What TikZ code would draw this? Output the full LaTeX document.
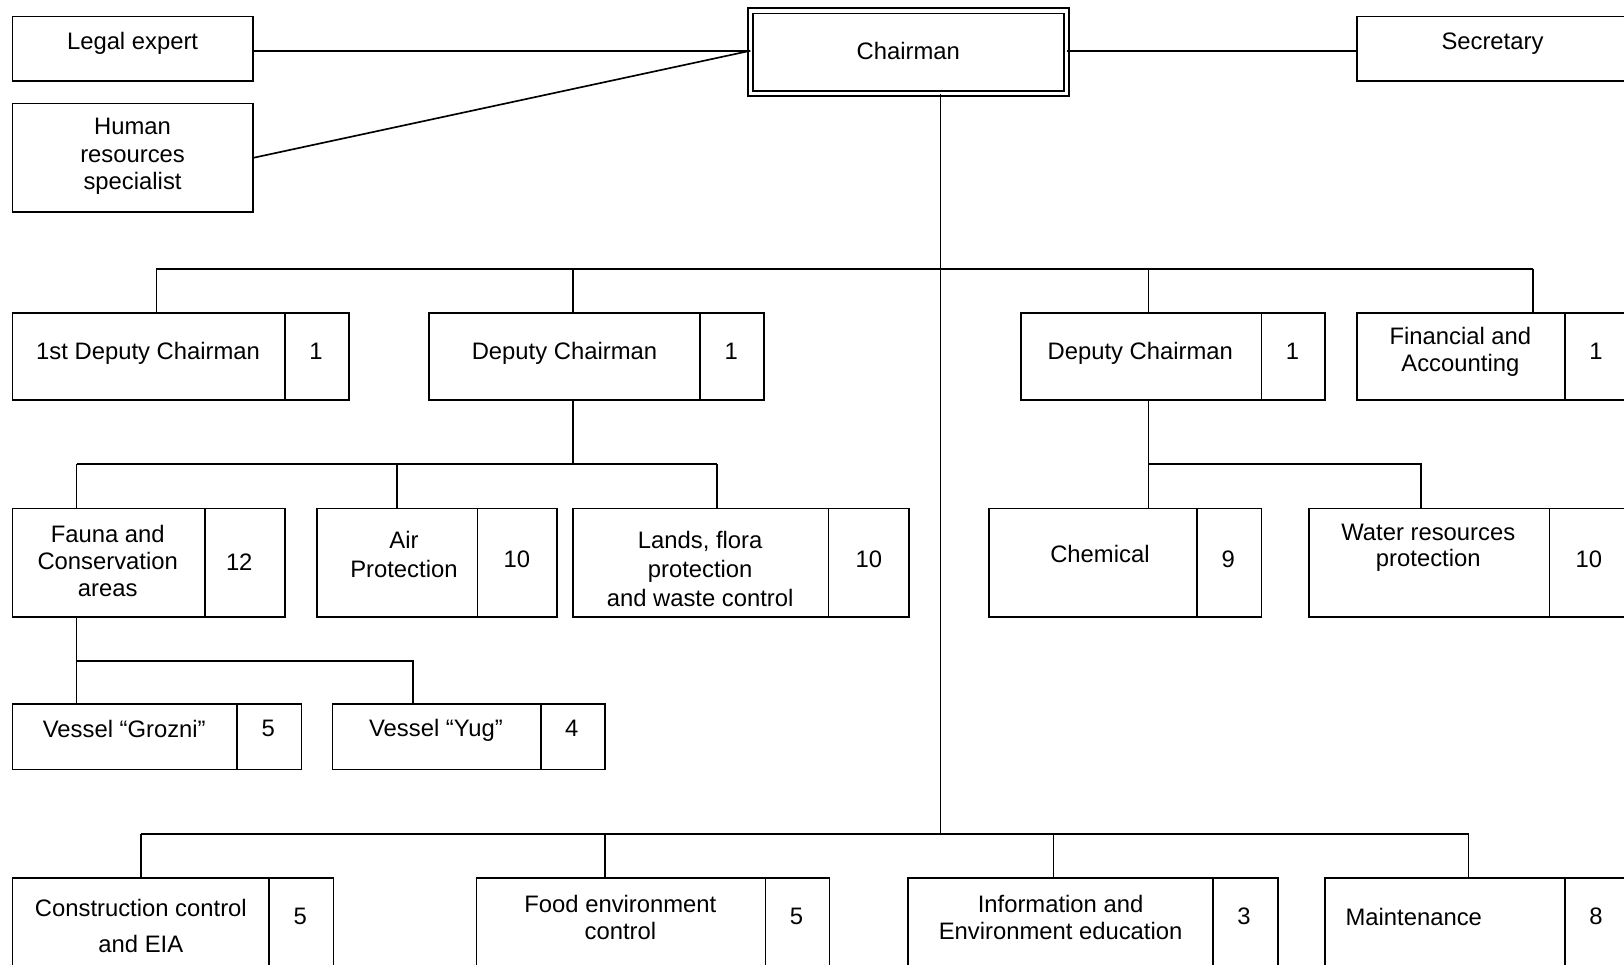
\documentclass[tikz,border=0pt]{standalone}
\usepackage{fontspec}
\setmainfont{Liberation Sans}
% one rectangular cell given by its corners (x1,y1)-(x2,y2)
\newcommand\orgcell[6][]{\node[box,#1,minimum width={(#5-#3)*0.5pt},minimum height={(#6-#4)*0.5pt}] (#2) at ({(#3+#5)/2},{(#4+#6)/2}) {};}
\begin{document}
\begin{tikzpicture}[x=0.5pt,y=-0.5pt,
  box/.style={draw,line width=0.85pt,inner sep=0pt,outer sep=0pt},
  txt/.style={font=\fontsize{11.5}{13}\selectfont,align=center,inner sep=0pt},
  link/.style={line width=0.8pt}]
\fill[white] (0,0) rectangle (1568,931);
\useasboundingbox (0,0) rectangle (1568,931);

% ---- top level ----
\orgcell{legal}{12}{16}{244}{78}
\orgcell{hr}{12}{100}{244}{205}
\orgcell[double,double distance=1.6pt,line width=0.9pt]{chair}{724.5}{10.5}{1030}{90.5}
\orgcell{sec}{1310}{16}{1580}{78}
\node[txt] (legal-t) at (128,42) {Legal expert};
\node[txt,font=\fontsize{11.5}{13.25}\selectfont] (hr-t) at (128,151) {Human\\resources\\specialist};
\node[txt] (chair-t) at (877,49) {Chairman};
\node[txt] (sec-t) at (1441,42) {Secretary};

% ---- deputies ----
\orgcell{dep1}{12}{302}{275}{386}   \orgcell{dep1n}{275}{302}{337}{386}
\orgcell{depA}{414}{302}{676}{386}  \orgcell{depAn}{676}{302}{738}{386}
\orgcell{depB}{986}{302}{1218}{386} \orgcell{depBn}{1218}{302}{1279}{386}
\orgcell{fin}{1310}{302}{1511}{386} \orgcell{finn}{1511}{302}{1572}{386}
\node[txt] (dep1-t) at (143,341) {1st Deputy Chairman};
\node[txt] (dep1n-t) at (305,339) {1};
\node[txt] (depA-t) at (545,341) {Deputy Chairman};
\node[txt] (depAn-t) at (706,339) {1};
\node[txt] (depB-t) at (1101,341) {Deputy Chairman};
\node[txt] (depBn-t) at (1248,339) {1};
\node[txt] (fin-t) at (1410,340) {Financial and\\Accounting};
\node[txt] (finn-t) at (1541,339) {1};

% ---- departments ----
\orgcell{fauna}{12}{491}{198}{596}   \orgcell{faunan}{198}{491}{275}{596}
\orgcell{air}{306}{491}{461}{596}    \orgcell{airn}{461}{491}{538}{596}
\orgcell{lands}{553}{491}{800}{596}  \orgcell{landsn}{800}{491}{878}{596}
\orgcell{chem}{955}{491}{1156}{596}  \orgcell{chemn}{1156}{491}{1218}{596}
\orgcell{water}{1264}{491}{1496}{596}\orgcell{watern}{1496}{491}{1572}{596}
\node[txt] (fauna-t) at (104,542) {Fauna and\\Conservation\\areas};
\node[txt] (faunan-t) at (231,543) {12};
\node[txt,font=\fontsize{11.5}{14}\selectfont] (air-t) at (390,535) {Air\\Protection};
\node[txt] (airn-t) at (499,540) {10};
\node[txt,font=\fontsize{11.5}{14}\selectfont] (lands-t) at (676,549) {Lands, flora\\protection\\and waste control};
\node[txt] (landsn-t) at (839,540) {10};
\node[txt] (chem-t) at (1062,535) {Chemical};
\node[txt] (chemn-t) at (1186,540) {9};
\node[txt,font=\fontsize{11.5}{12.5}\selectfont] (water-t) at (1379,529) {Water resources\\protection};
\node[txt] (watern-t) at (1534,540) {10};

% ---- vessels ----
\orgcell{grozni}{12}{680}{229}{743} \orgcell{grozn}{229}{680}{291}{743}
\orgcell{yug}{321}{680}{522}{743}   \orgcell{yugn}{522}{680}{584}{743}
\node[txt] (grozni-t) at (120,704) {Vessel “Grozni”};
\node[txt] (grozn-t) at (259,703) {5};
\node[txt] (yug-t) at (421,705) {Vessel “Yug”};
\node[txt] (yugn-t) at (552,703) {4};

% ---- bottom row ----
\orgcell{constr}{12}{848}{260}{960}  \orgcell{constrn}{260}{848}{322}{960}
\orgcell{food}{460}{848}{739}{960}   \orgcell{foodn}{739}{848}{801}{960}
\orgcell{info}{877}{848}{1171}{960}  \orgcell{infon}{1171}{848}{1234}{960}
\orgcell{maint}{1279}{848}{1511}{960}\orgcell{maintn}{1511}{848}{1572}{960}
\node[txt,font=\fontsize{11.5}{17}\selectfont] (constr-t) at (136,894) {Construction control\\and EIA};
\node[txt] (constrn-t) at (290,885) {5};
\node[txt] (food-t) at (599,886) {Food environment\\control};
\node[txt] (foodn-t) at (769,885) {5};
\node[txt] (info-t) at (1024,886) {Information and\\Environment education};
\node[txt] (infon-t) at (1201,885) {3};
\node[txt] (maint-t) at (1365,885) {Maintenance};
\node[txt] (maintn-t) at (1541,885) {8};

% ---- junction points ----
\coordinate (hub) at (chair.west |- 0,49);
\coordinate (trunk) at (908,805);
\coordinate (busTa) at (151,260);  \coordinate (busTb) at (553,260);
\coordinate (busTc) at (1109,260); \coordinate (busTd) at (1480,260);
\coordinate (busAa) at (74,448);   \coordinate (busAb) at (383,448);
\coordinate (busAc) at (692,448);  \coordinate (busAm) at (553,448);
\coordinate (busBa) at (1109,448); \coordinate (busBb) at (1372,448);
\coordinate (busVa) at (74,638);   \coordinate (busVb) at (399,638);
\coordinate (busLa) at (136,805);  \coordinate (busLb) at (584,805);
\coordinate (busLc) at (1017,805); \coordinate (busLd) at (1418,805);

% ---- connectors ----
\draw[link] (legal.east |- hub) -- (hub);
\draw[link] (hr.east) -- (hub);
\draw[link] (chair.east |- hub) -- (sec.west |- hub);
\draw[link] (chair.south -| trunk) -- (trunk);
\draw[link] (busTa) -- (busTd);
\draw[link] (busTa) -- (dep1.north -| busTa);
\draw[link] (busTb) -- (depA.north -| busTb);
\draw[link] (busTc) -- (depB.north -| busTc);
\draw[link] (busTd) -- (fin.north -| busTd);
\draw[link] (depA.south -| busAm) -- (busAm);
\draw[link] (busAa) -- (busAc);
\draw[link] (busAa) -- (fauna.north -| busAa);
\draw[link] (busAb) -- (air.north -| busAb);
\draw[link] (busAc) -- (lands.north -| busAc);
\draw[link] (depB.south -| busBa) -- (chem.north -| busBa);
\draw[link] (busBa) -- (busBb) -- (water.north -| busBb);
\draw[link] (fauna.south -| busVa) -- (grozni.north -| busVa);
\draw[link] (busVa) -- (busVb) -- (yug.north -| busVb);
\draw[link] (busLa) -- (busLd);
\draw[link] (busLa) -- (constr.north -| busLa);
\draw[link] (busLb) -- (food.north -| busLb);
\draw[link] (busLc) -- (info.north -| busLc);
\draw[link] (busLd) -- (maint.north -| busLd);
\end{tikzpicture}
\end{document}
